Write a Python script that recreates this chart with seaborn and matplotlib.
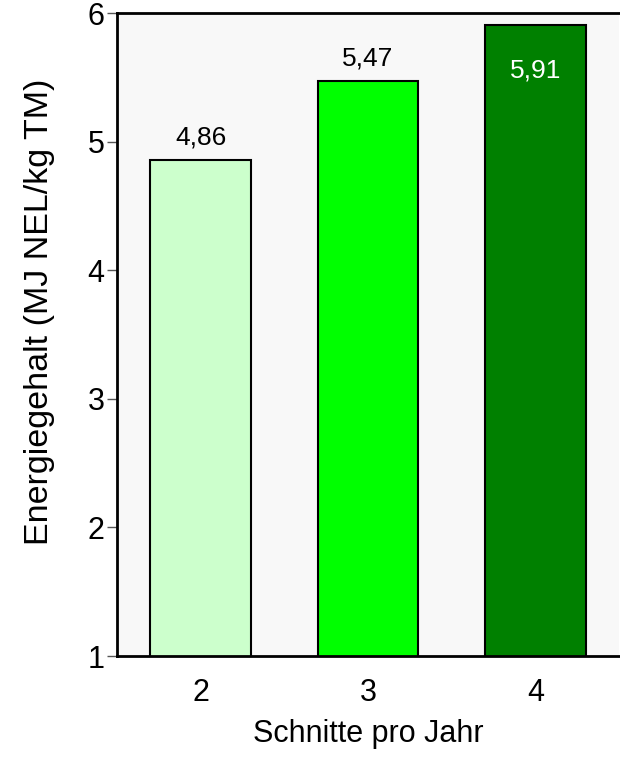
import numpy as np
import pandas as pd
import seaborn as sns
import matplotlib.pyplot as plt

# Daten
schnitte = ["2", "3", "4"]
energie = [4.86, 5.47, 5.91]
beschriftung = ["4,86", "5,47", "5,91"]
farben = ["#CCFFCC", "#00FF00", "#008000"]

df = pd.DataFrame({"Schnitte": schnitte, "Energie": energie})

sns.set_style("white")
plt.rcParams['font.family'] = ['Liberation Sans', 'DejaVu Sans']
plt.rcParams['text.color'] = 'black'
plt.rcParams['axes.labelcolor'] = 'black'
plt.rcParams['xtick.color'] = 'black'
plt.rcParams['ytick.color'] = 'black'

fig = plt.figure(figsize=(6.2, 7.62), dpi=100)
ax = fig.add_axes([0.1887, 0.1391, 0.8097, 0.8438])
ax.set_facecolor("#F8F8F8")

sns.barplot(data=df, x="Schnitte", y="Energie", hue="Schnitte", palette=farben,
            saturation=1, width=0.6, edgecolor="black", linewidth=1.5,
            legend=False, ax=ax)

ax.set_ylim(1, 6)
ax.set_xlim(-0.5, 2.5)
ax.set_yticks([1, 2, 3, 4, 5, 6])
ax.set_yticklabels(["1", "2", "3", "4", "5", "6"], fontsize=22)

# Hauptstriche zwischen den Kategorien, Beschriftung in der Mitte
ax.set_xticks([-0.5, 0.5, 1.5, 2.5])
ax.set_xticklabels([])
ax.set_xticks([0, 1, 2], minor=True)
ax.set_xticklabels(schnitte, minor=True, fontsize=22)
ax.tick_params(axis="x", which="minor", length=0, pad=16)
ax.tick_params(axis="x", which="major", direction="out", length=6, width=1, color="#555555")
ax.tick_params(axis="y", direction="out", length=7, width=1, color="#555555", pad=2, left=True)

for s in ["left", "top", "bottom"]:
    ax.spines[s].set_color("black")
    ax.spines[s].set_linewidth(2)
ax.spines["right"].set_visible(False)

# Werte an den Balken
for i, (v, t) in enumerate(zip(energie, beschriftung)):
    if i < 2:
        ax.annotate(t, (i, v), xytext=(0, 16), textcoords="offset points",
                    ha="center", va="center", fontsize=19, color="black")
    else:
        ax.annotate(t, (i, v), xytext=(0, -33), textcoords="offset points",
                    ha="center", va="center", fontsize=19, color="white")

ax.set_xlabel("Schnitte pro Jahr", fontsize=22, labelpad=8)
ax.set_ylabel("Energiegehalt (MJ NEL/kg TM)", fontsize=24.5)
ax.yaxis.set_label_coords(-0.1235, 0.535)

plt.savefig("out.png", dpi=100)
